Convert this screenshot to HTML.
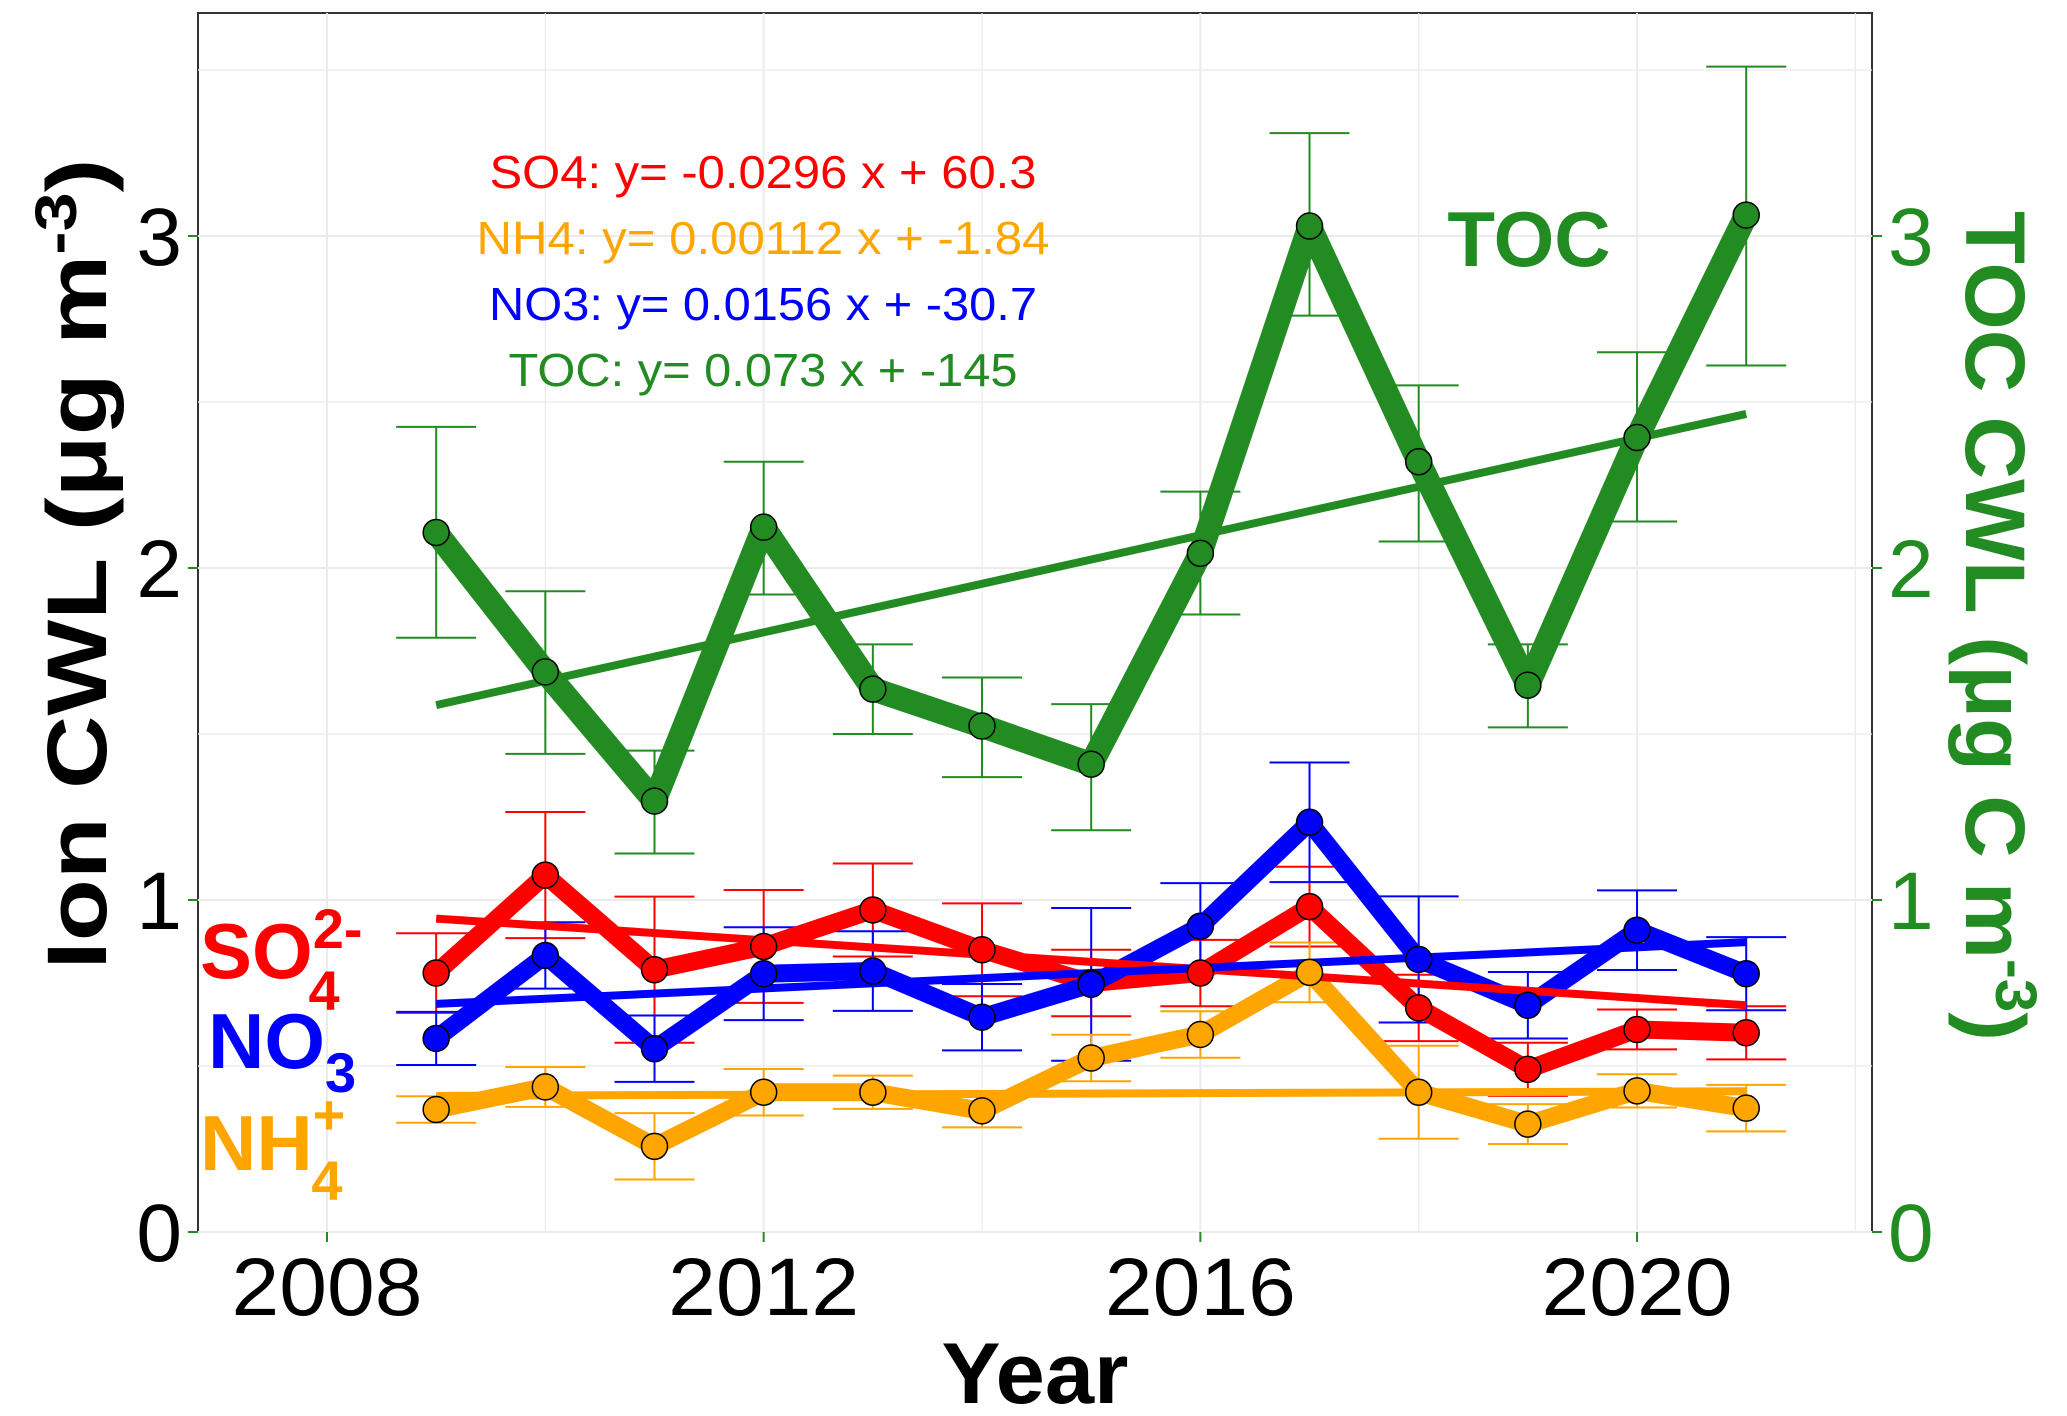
<!DOCTYPE html>
<html><head><meta charset="utf-8">
<style>
html,body{margin:0;padding:0;background:#fff;}
svg{display:block;font-family:"Liberation Sans",sans-serif;}
</style></head>
<body>
<svg id="chart" width="2067" height="1416" viewBox="0 0 2067 1416">
<rect x="198" y="13" width="1674" height="1219" fill="#fff" stroke="#333" stroke-width="2"/>
<g id="grid"></g>
<g id="series"></g>
<g id="axes"></g>
<text x="763" y="188" font-size="46" fill="#ff0000" text-anchor="middle" textLength="547" lengthAdjust="spacingAndGlyphs">SO4: y= -0.0296 x + 60.3</text>
<text x="763" y="254" font-size="46" fill="#ffa500" text-anchor="middle" textLength="573" lengthAdjust="spacingAndGlyphs">NH4: y= 0.00112 x + -1.84</text>
<text x="763" y="320" font-size="46" fill="#0000ff" text-anchor="middle" textLength="548" lengthAdjust="spacingAndGlyphs">NO3: y= 0.0156 x + -30.7</text>
<text x="763" y="386" font-size="46" fill="#228b22" text-anchor="middle" textLength="509" lengthAdjust="spacingAndGlyphs">TOC: y= 0.073 x + -145</text>
<text x="1529" y="266" font-size="78" font-weight="bold" fill="#228b22" text-anchor="middle">TOC</text>
<text x="200" y="978" font-size="78" font-weight="bold" fill="#ff0000">SO<tspan font-size="56" dy="-30">2-</tspan><tspan font-size="56" dx="-54" dy="62">4</tspan></text>
<text x="208" y="1068" font-size="78" font-weight="bold" fill="#0000ff">NO<tspan font-size="56" dy="24">3</tspan></text>
<text x="200" y="1170" font-size="78" font-weight="bold" fill="#ffa500">NH<tspan font-size="56" dy="-36">+</tspan><tspan font-size="56" dx="-34" dy="66">4</tspan></text>
<text x="1035" y="1403" font-size="86" font-weight="bold" text-anchor="middle" textLength="187" lengthAdjust="spacingAndGlyphs">Year</text>
<text transform="translate(106,564) rotate(-90)" font-size="84" font-weight="bold" text-anchor="middle" textLength="811" lengthAdjust="spacingAndGlyphs">Ion CWL (μg m<tspan font-size="58" dy="-30">-3</tspan><tspan dy="30">)</tspan></text>
<text transform="translate(1966,626) rotate(90)" font-size="84" font-weight="bold" fill="#228b22" text-anchor="middle" textLength="830" lengthAdjust="spacingAndGlyphs">TOC CWL (μg C m<tspan font-size="58" dy="-30">-3</tspan><tspan dy="30">)</tspan></text>
</svg>
<script>
const years=[2009,2010,2011,2012,2013,2014,2015,2016,2017,2018,2019,2020,2021];
const tocVals=[2.107,1.687,1.298,2.123,1.635,1.524,1.409,2.044,3.03,2.32,1.647,2.393,3.063];
const tocUp=[2.425,1.93,1.45,2.32,1.77,1.67,1.59,2.23,3.31,2.55,1.77,2.65,3.51];
const tocLo=[1.79,1.44,1.14,1.92,1.50,1.37,1.21,1.86,2.76,2.08,1.52,2.14,2.61];
const so4Vals=[0.78,1.075,0.79,0.86,0.97,0.85,0.75,0.78,0.98,0.675,0.49,0.61,0.60];
const so4Err=[0.12,0.19,0.22,0.17,0.14,0.14,0.10,0.10,0.12,0.10,0.08,0.06,0.08];
const no3Vals=[0.583,0.833,0.552,0.778,0.786,0.647,0.746,0.921,1.234,0.821,0.683,0.909,0.778];
const no3Err=[0.08,0.10,0.10,0.14,0.12,0.10,0.23,0.13,0.18,0.19,0.10,0.12,0.11];
const nh4Vals=[0.369,0.437,0.258,0.421,0.421,0.365,0.524,0.595,0.782,0.421,0.325,0.425,0.373];
const nh4Err=[0.04,0.06,0.10,0.07,0.05,0.05,0.07,0.07,0.09,0.14,0.06,0.05,0.07];
const trendSO4=[0.944,0.683];
const trendNO3=[0.687,0.873];
const trendNH4=[0.41,0.424];
const trendTOC=[1.587,2.464];
const xTicks=[2008,2012,2016,2020];
const yTicks=[0,1,2,3];

const NS='http://www.w3.org/2000/svg';
const X=y=>327+(y-2008)*109.17;
const Y=v=>1232-v*332;
function mk(tag,attrs,parent){const e=document.createElementNS(NS,tag);for(const k in attrs)e.setAttribute(k,attrs[k]);parent.appendChild(e);return e;}
const grid=document.getElementById('grid'),ser=document.getElementById('series'),ax=document.getElementById('axes');
for(let yr=2008;yr<=2022;yr+=2){if(X(yr)>1870)break;const l=mk('line',{x1:X(yr),x2:X(yr),y1:13,y2:1232,stroke:'#ebebeb','stroke-width':yr%4==0?2:1.2},grid);

}
for(let v=0;v<=3.5;v+=0.5){const l=mk('line',{x1:198,x2:1872,y1:Y(v),y2:Y(v),stroke:'#ebebeb','stroke-width':v%1==0?2:1.2},grid);

}
function errbars(vals,lo,hi,color,name){vals.forEach((v,i)=>{const g=mk('g',{stroke:color,'stroke-width':2},ser);


const x=X(years[i]);mk('line',{x1:x,x2:x,y1:Y(hi[i]),y2:Y(lo[i])},g);mk('line',{x1:x-40,x2:x+40,y1:Y(hi[i]),y2:Y(hi[i])},g);mk('line',{x1:x-40,x2:x+40,y1:Y(lo[i]),y2:Y(lo[i])},g);});}
function series(vals,color,w,name){const p=mk('polyline',{points:vals.map((v,i)=>X(years[i])+','+Y(v)).join(' '),fill:'none',stroke:color,'stroke-width':w,'stroke-linejoin':'round'},ser);

}
function points(vals,color,name){vals.forEach((v,i)=>{const c=mk('circle',{cx:X(years[i]),cy:Y(v),r:13,fill:color,stroke:'#000','stroke-width':1.5},ser);

});}
function trend(t,color,name){const l=mk('line',{x1:X(2009),x2:X(2021),y1:Y(t[0]),y2:Y(t[1]),stroke:color,'stroke-width':8},ser);

}
const pm=(v,e,s)=>v.map((x,i)=>x+s*e[i]);
errbars(tocVals,tocLo,tocUp,'#228b22','toc');
errbars(so4Vals,pm(so4Vals,so4Err,-1),pm(so4Vals,so4Err,1),'#ff0000','so4');
errbars(no3Vals,pm(no3Vals,no3Err,-1),pm(no3Vals,no3Err,1),'#0000ff','no3');
errbars(nh4Vals,pm(nh4Vals,nh4Err,-1),pm(nh4Vals,nh4Err,1),'#ffa500','nh4');
series(tocVals,'#228b22',24,'toc');
series(so4Vals,'#ff0000',18,'so4');
series(no3Vals,'#0000ff',18,'no3');
series(nh4Vals,'#ffa500',18,'nh4');
trend(trendTOC,'#228b22','toc');trend(trendSO4,'#ff0000','so4');trend(trendNO3,'#0000ff','no3');trend(trendNH4,'#ffa500','nh4');
points(tocVals,'#228b22','toc');points(so4Vals,'#ff0000','so4');points(no3Vals,'#0000ff','no3');points(nh4Vals,'#ffa500','nh4');
xTicks.forEach(t=>{const l=mk('line',{x1:X(t),x2:X(t),y1:1232,y2:1242,stroke:'#228b22','stroke-width':2},ax);


const tx=mk('text',{x:X(t),y:1315,'font-size':82,'text-anchor':'middle',textLength:191,lengthAdjust:'spacingAndGlyphs'},ax);tx.textContent=t;

});
yTicks.forEach(t=>{const l=mk('line',{x1:188,x2:198,y1:Y(t),y2:Y(t),stroke:'#228b22','stroke-width':2},ax);


const tx=mk('text',{x:182,y:Y(t)+29,'font-size':82,'text-anchor':'end'},ax);tx.textContent=t;


const l2=mk('line',{x1:1872,x2:1882,y1:Y(t),y2:Y(t),stroke:'#228b22','stroke-width':2},ax);


const t2=mk('text',{x:1888,y:Y(t)+29,'font-size':82,fill:'#228b22'},ax);t2.textContent=t;

});
</script>
</body></html>
